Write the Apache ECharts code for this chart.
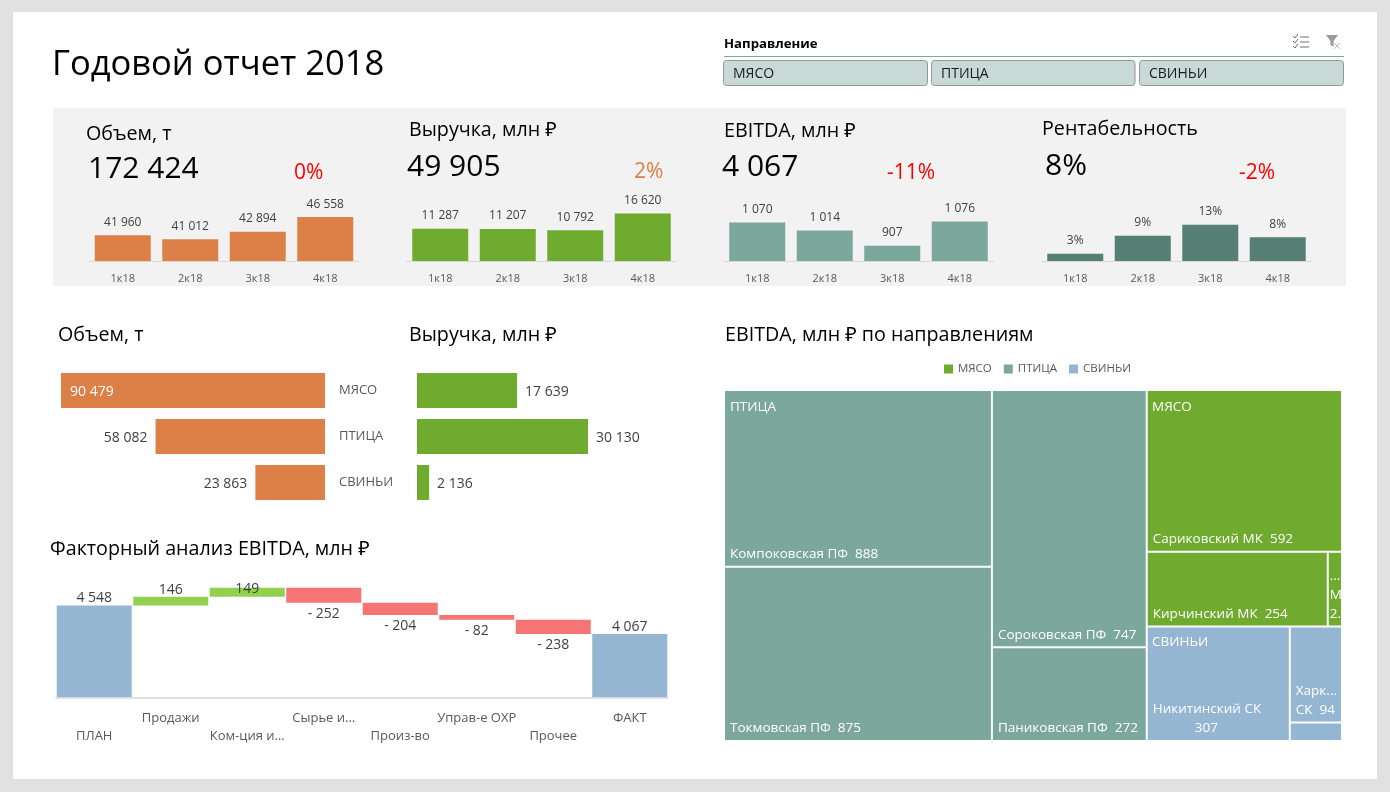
<!DOCTYPE html>
<html><head><meta charset="utf-8">
<style>html,body{margin:0;padding:0;background:#e1e1e1}#c{width:1390px;height:792px}</style>
<script src="https://cdn.jsdelivr.net/npm/echarts@6/dist/echarts.min.js"></script>
</head><body><div id="c"></div>
<script>
const quarters = ['1к18','2к18','3к18','4к18'];
const volumeQ = [41960,41012,42894,46558];
const revenueQ = [11287,11207,10792,16620];
const ebitdaQ = [1070,1014,907,1076];
const marginQ = [2.5,8.7,12.5,8.2];
const directions = ['МЯСО','ПТИЦА','СВИНЬИ'];
const volumeDir = [90479,58082,23863];
const revenueDir = [17639,30130,2136];
const factorNames = ['ПЛАН','Продажи','Ком-ция и...','Сырье и...','Произ-во','Управ-е ОХР','Прочее','ФАКТ'];
const factorValues = [4548,146,149,-252,-204,-82,-238,4067];
const poultry = [['Компоковская ПФ',888],['Токмовская ПФ',875],['Сороковская ПФ',747],['Паниковская ПФ',272]];
const meat = [['Сариковский МК',592],['Кирчинский МК',254],['М...',20]];
const pigs = [['Никитинский СК',307],['Харк... СК',94],['Лом...',18]];

const F = '"Open Sans","Noto Sans",sans-serif';
const ORANGE='#dd8047', GREEN='#6fab2e', TEAL='#7ba79d', DTEAL='#567f76', BLUE='#94b6d2', UP='#92d050', DOWN='#f67474';
const GRAY='#595959', AXIS='#d9d9d9';
const fmt = v => String(Math.abs(v)).replace(/\B(?=(\d{3})+$)/g,' ');
const txt = (text,x,y,size,fill,extra) => ({type:'text',z:5,style:Object.assign({text,x,y,font:`${(extra&&extra.weight)||'normal'} ${size}px ${F}`,fill:fill||'#000',verticalAlign:'middle',align:'left'})});

const H=19.7, N=30, P=21;
const graphics = [
  {type:'rect',z:-2,shape:{x:13,y:12,width:1364,height:767},style:{fill:'#fff'}},
  {type:'rect',z:-1,shape:{x:53,y:108,width:1293,height:178},style:{fill:'#f2f2f2'}},
  txt('Годовой отчет 2018',52,65,34.5),
  txt('Объем, т',86,134,H), txt('172 424',88,169,N), txt('0%',294,173,P,'#ff0000'),
  txt('Выручка, млн ₽',409,130,H), txt('49 905',407,167,N), txt('2%',634,172,P,ORANGE),
  txt('EBITDA, млн ₽',724,131,H), txt('4 067',722,167,N), txt('-11%',887,173,P,'#ff0000'),
  txt('Рентабельность',1042,129,H), txt('8%',1045,166,N), txt('-2%',1239,173,P,'#ff0000'),
  txt('Объем, т',58,335,H), txt('Выручка, млн ₽',409,335,H),
  txt('EBITDA, млн ₽ по направлениям',725,335,H),
  txt('Факторный анализ EBITDA, млн ₽',50,549,H),
  txt('Направление',724,44,13.2,'#000',{weight:'bold'}),
  {type:'line',z:1,shape:{x1:724,y1:56.5,x2:1344,y2:56.5},style:{stroke:'#7ba79d',lineWidth:1}},
  txt('ПТИЦА',730,407,13.5,'#fff'), txt('МЯСО',1152,407,13.5,'#fff'), txt('СВИНЬИ',1152,642,13.5,'#fff'),
];
directions.forEach((d,i)=>{
  const x=[723.5,931.5,1139.5][i], w=[204,203.5,204][i];
  graphics.push({type:'rect',z:1,shape:{x,y:60.5,width:w,height:25,r:3},style:{fill:'#c9dad6',stroke:'#8f9a97',lineWidth:1}});
  graphics.push(txt(d,x+9.5,74,14,'#1a1a1a'));
});
[37,42,47].forEach(y=>{
  graphics.push({type:'line',z:1,shape:{x1:1300,y1:y,x2:1309,y2:y},style:{stroke:'#707070',lineWidth:1}});
  graphics.push({type:'polyline',z:1,shape:{points:[[1293,y-1],[1295,y+1],[1298,y-3]]},style:{stroke:'#707070',lineWidth:1,fill:'none'}});
});
graphics.push({type:'polygon',z:1,shape:{points:[[1326,35],[1338,35],[1333.5,41],[1333.5,47],[1330.5,45],[1330.5,41]]},style:{fill:'#9a9a9a'}});
graphics.push({type:'polyline',z:1,shape:{points:[[1334,43],[1340,49]]},style:{stroke:'#c0c0c0',lineWidth:1,fill:'none'}});
graphics.push({type:'polyline',z:1,shape:{points:[[1340,43],[1334,49]]},style:{stroke:'#c0c0c0',lineWidth:1,fill:'none'}});

const grids=[], xAxes=[], yAxes=[], series=[];
function addMini(left,vals,color,min,max,label){
  const i=grids.length;
  grids.push({left,width:270,top:211,height:50});
  xAxes.push({type:'category',gridIndex:i,data:quarters,axisTick:{show:false},axisLine:{lineStyle:{color:AXIS}},axisLabel:{color:GRAY,fontSize:11,margin:12,fontFamily:F,interval:0}});
  yAxes.push({type:'value',gridIndex:i,min,max,show:false});
  series.push({type:'bar',xAxisIndex:i,yAxisIndex:i,data:vals,barWidth:56,itemStyle:{color},
    label:{show:true,position:'top',distance:7,fontSize:12,color:'#404040',fontFamily:F,formatter:p=>label(p.value)}});
}
addMini(89,volumeQ,ORANGE,35500,48100,fmt);
addMini(406.5,revenueQ,GREEN,0,17500,fmt);
addMini(723.5,ebitdaQ,TEAL,800,1150,fmt);
addMini(1041.5,marginQ,DTEAL,0,17.2,v=>Math.round(v)+'%');

// horizontal: volume
let gi=grids.length;
grids.push({left:61,width:264,top:367.5,height:138});
xAxes.push({type:'value',gridIndex:gi,min:0,max:volumeDir[0],inverse:true,show:false});
yAxes.push({type:'category',gridIndex:gi,data:directions,inverse:true,position:'right',axisTick:{show:false},axisLine:{show:false,onZero:false},axisLabel:{color:GRAY,fontSize:13,margin:14,fontFamily:F,padding:[2,0,0,0]}});
series.push({type:'bar',xAxisIndex:gi,yAxisIndex:gi,barWidth:35,itemStyle:{color:ORANGE},
  data:volumeDir.map((v,i)=>({value:v,label:{show:true,fontFamily:F,fontSize:14,formatter:fmt(v),offset:[0,1.5],
    position:i===0?'insideLeft':'left',distance:i===0?9:8,color:i===0?'#fff':'#404040'}}))});
// horizontal: revenue
gi=grids.length;
grids.push({left:417,width:171,top:367.5,height:138});
xAxes.push({type:'value',gridIndex:gi,min:0,max:revenueDir[1],show:false});
yAxes.push({type:'category',gridIndex:gi,data:directions,inverse:true,show:false});
series.push({type:'bar',xAxisIndex:gi,yAxisIndex:gi,barWidth:35,itemStyle:{color:GREEN},
  label:{show:true,position:'right',distance:8,offset:[0,1.5],fontFamily:F,fontSize:14,color:'#404040',formatter:p=>fmt(p.value)},data:revenueDir});
// waterfall
gi=grids.length;
grids.push({left:56,width:612,top:578.5,height:119});
xAxes.push({type:'category',gridIndex:gi,data:factorNames,z:5,axisTick:{show:false},axisLine:{lineStyle:{color:AXIS,width:1.5}},
  axisLabel:{interval:0,color:GRAY,fontSize:13,fontFamily:F,margin:12,lineHeight:18,verticalAlign:'top',formatter:(v,i)=>i%2===0?'\n'+v:v}});
yAxes.push({type:'value',gridIndex:gi,min:3000,max:5000,show:false});
let run=0; const bases=[], bars=[];
factorValues.forEach((v,i)=>{
  const total=i===0||i===factorValues.length-1;
  if(total){bases.push(0);run=v;}
  else if(v>=0){bases.push(run);run+=v;}
  else {run+=v;bases.push(run);}
  bars.push({value:Math.abs(v),itemStyle:{color:total?BLUE:v>=0?UP:DOWN},
    label:{show:true,fontFamily:F,fontSize:14,color:'#404040',
      formatter:v<0?'- '+fmt(v):fmt(v),position:v<0?'bottom':'top',distance:v<0?3:1,offset:i===2?[0,9]:[0,1]}});
});
series.push({type:'bar',xAxisIndex:gi,yAxisIndex:gi,stack:'w',barWidth:75,data:bases,itemStyle:{color:'transparent'},silent:true});
series.push({type:'bar',xAxisIndex:gi,yAxisIndex:gi,stack:'w',barWidth:75,data:bars,z:3});

// treemap
const groups=[['МЯСО',meat,GREEN],['ПТИЦА',poultry,TEAL],['СВИНЬИ',pigs,BLUE]];
const leafText={'Никитинский СК':'Никитинский СК\n            307','Харк... СК':'Харк...\nСК  94','Лом...':'Лом...','М...':'...\nМ..\n2..'};
series.push({type:'treemap',left:725,top:391,width:616,height:349,z:2,roam:false,nodeClick:false,squareRatio:1,visibleMin:1,
  breadcrumb:{show:false},levels:[{itemStyle:{gapWidth:2,borderWidth:0}},{itemStyle:{gapWidth:2,borderWidth:0}}],
  label:{show:true,position:'insideBottomLeft',color:'#fff',fontSize:13.5,fontFamily:F,lineHeight:19,overflow:'none',padding:[0,0,2,5],
    formatter:p=>leafText[p.name]||(p.name+'  '+p.value)},
  data:groups.map(([name,items,color])=>({name,itemStyle:{color},children:items.map(([n,value])=>({name:n,value,itemStyle:{color},
    label:n==='М...'?{padding:[0,0,2,1]}:undefined}))}))});
// legend entries
groups.forEach(([name,,color])=>series.push({type:'scatter',name,xAxisIndex:0,yAxisIndex:0,data:[],itemStyle:{color,opacity:1}}));

echarts.init(document.getElementById('c'),null,{renderer:'canvas'}).setOption({
  animation:false,backgroundColor:'#e1e1e1',textStyle:{fontFamily:F},
  graphic:{elements:graphics},grid:grids,xAxis:xAxes,yAxis:yAxes,series,
  legend:{data:directions,left:939,top:358,icon:'rect',itemWidth:9,itemHeight:9,itemGap:12,selectedMode:false,textStyle:{color:GRAY,fontSize:11.5,fontFamily:F}},
  tooltip:{show:false}
});
</script></body></html>
